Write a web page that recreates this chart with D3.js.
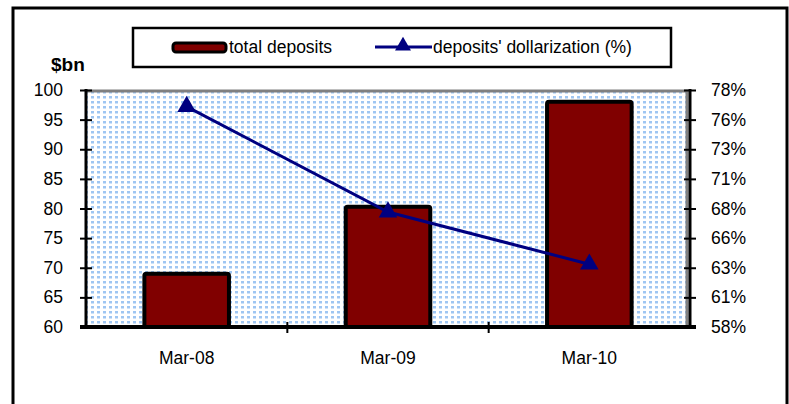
<!DOCTYPE html>
<html>
<head>
<meta charset="utf-8">
<script src="https://cdn.jsdelivr.net/npm/d3@7"></script>
<style>
  body { margin: 0; background: #fff; }
  text { font-family: "Liberation Sans", Arial, sans-serif; fill: #000; }
</style>
</head>
<body>
<div id="chart"></div>
<script>
// chart values
const categories = ['Mar-08', 'Mar-09', 'Mar-10'];
const deposits = [69, 80.3, 98];             // $bn, left axis
const dollarization = [76.6, 67.7, 63.3];    // %, right axis
const leftTicks = [60, 65, 70, 75, 80, 85, 90, 95, 100];
const rightTicks = [58, 60.5, 63, 65.5, 68, 70.5, 73, 75.5, 78];

const W = 789;
const H = 404;
const plot = { left: 86, right: 690, top: 90, bottom: 327 };
const fontSize = '17.5px';

const svg = d3.select('#chart').append('svg')
  .attr('width', W)
  .attr('height', H);

// dotted fill of the plot area
const defs = svg.append('defs');
const pat = defs.append('pattern')
  .attr('id', 'dots')
  .attr('width', 6)
  .attr('height', 5)
  .attr('patternUnits', 'userSpaceOnUse');
pat.append('rect').attr('width', 6).attr('height', 5).attr('fill', '#fff');
pat.append('rect').attr('x', 1).attr('y', 1).attr('width', 3).attr('height', 2.5).attr('fill', '#9fc6f2');

// outer frame (bottom edge runs off the picture)
svg.append('rect')
  .attr('x', 13).attr('y', 8)
  .attr('width', 774).attr('height', 420)
  .attr('fill', 'none')
  .attr('stroke', '#000')
  .attr('stroke-width', 3);

const x = d3.scaleBand().domain(categories).range([plot.left, plot.right]).padding(0);
const xBar = d3.scaleBand().domain(categories).range([plot.left, plot.right])
  .paddingInner(0.58).paddingOuter(0.29);
const y = d3.scaleLinear().domain([60, 100]).range([plot.bottom, plot.top]);
const y2 = d3.scaleLinear().domain([58, 78]).range([plot.bottom, plot.top]);

// plot background
svg.append('rect')
  .attr('x', plot.left).attr('y', plot.top)
  .attr('width', plot.right - plot.left).attr('height', plot.bottom - plot.top)
  .attr('fill', 'url(#dots)');
svg.append('path')
  .attr('d', `M${plot.left},${plot.top + 1}H${plot.right - 3}V${plot.bottom}`)
  .attr('fill', 'none')
  .attr('stroke', '#808080')
  .attr('stroke-width', 3);

// bars
svg.selectAll('.bar')
  .data(categories)
  .enter().append('rect')
    .attr('class', 'bar')
    .attr('x', d => xBar(d))
    .attr('y', (d, i) => y(deposits[i]))
    .attr('width', xBar.bandwidth())
    .attr('height', (d, i) => plot.bottom - y(deposits[i]))
    .attr('rx', 2)
    .attr('fill', '#800000')
    .attr('stroke', '#000')
    .attr('stroke-width', 4);

// left axis
const gl = svg.append('g')
  .attr('transform', `translate(${plot.left},0)`)
  .call(d3.axisLeft(y).tickValues(leftTicks).tickSize(6).tickPadding(17));
gl.select('.domain').remove();
gl.append('line')
  .attr('y1', plot.top - 1).attr('y2', plot.bottom + 1)
  .attr('stroke', '#000').attr('stroke-width', 3);
gl.selectAll('.tick line')
  .attr('x1', 6)
  .attr('stroke', '#000')
  .attr('stroke-width', 2);
gl.selectAll('.tick text').style('font-size', fontSize);
gl.attr('font-family', null);

// right axis
const gr = svg.append('g')
  .attr('transform', `translate(${plot.right},0)`)
  .call(d3.axisRight(y2).tickValues(rightTicks).tickSize(6).tickPadding(15)
    .tickFormat(d => `${Math.round(d)}%`));
gr.select('.domain').remove();
gr.append('line')
  .attr('y1', plot.top - 1).attr('y2', plot.bottom + 1)
  .attr('stroke', '#000').attr('stroke-width', 3);
gr.selectAll('.tick line')
  .attr('x1', -6)
  .attr('stroke', '#000')
  .attr('stroke-width', 2);
gr.selectAll('.tick text').style('font-size', fontSize);
gr.attr('font-family', null);

// bottom axis: ticks sit between categories
const gx = svg.append('g');
gx.append('line')
  .attr('x1', plot.left - 6).attr('x2', plot.right + 6)
  .attr('y1', plot.bottom).attr('y2', plot.bottom)
  .attr('stroke', '#000').attr('stroke-width', 4);
gx.selectAll('.xtick')
  .data(categories.slice(1))
  .enter().append('line')
    .attr('x1', d => x(d)).attr('x2', d => x(d))
    .attr('y1', plot.bottom - 5).attr('y2', plot.bottom + 6)
    .attr('stroke', '#000').attr('stroke-width', 2);
gx.selectAll('.xlabel')
  .data(categories)
  .enter().append('text')
    .attr('x', d => x(d) + x.bandwidth() / 2)
    .attr('y', 364)
    .attr('text-anchor', 'middle')
    .style('font-size', fontSize)
    .text(d => d);

// dollarization line
const line = d3.line()
  .x((d, i) => x(categories[i]) + x.bandwidth() / 2)
  .y(d => y2(d));
svg.append('path')
  .datum(dollarization)
  .attr('d', line)
  .attr('fill', 'none')
  .attr('stroke', '#000080')
  .attr('stroke-width', 3);
const tri = d3.symbol().type(d3.symbolTriangle).size(150);
svg.selectAll('.marker')
  .data(dollarization)
  .enter().append('path')
    .attr('d', tri)
    .attr('transform', (d, i) => `translate(${x(categories[i]) + x.bandwidth() / 2},${y2(d)})`)
    .attr('fill', '#000080');

// unit label
svg.append('text')
  .attr('x', 51).attr('y', 71)
  .style('font-size', '19px')
  .style('font-weight', 'bold')
  .text('$bn');

// legend
const lg = svg.append('g');
lg.append('rect')
  .attr('x', 133).attr('y', 28)
  .attr('width', 538).attr('height', 39)
  .attr('fill', '#fff')
  .attr('stroke', '#000')
  .attr('stroke-width', 2.5);
lg.append('rect')
  .attr('x', 173).attr('y', 43)
  .attr('width', 53).attr('height', 9)
  .attr('rx', 3)
  .attr('fill', '#800000')
  .attr('stroke', '#000')
  .attr('stroke-width', 3);
lg.append('text')
  .attr('x', 229).attr('y', 53)
  .style('font-size', fontSize)
  .text('total deposits');
lg.append('line')
  .attr('x1', 375).attr('x2', 432)
  .attr('y1', 47).attr('y2', 47)
  .attr('stroke', '#000080')
  .attr('stroke-width', 3);
lg.append('path')
  .attr('d', d3.symbol().type(d3.symbolTriangle).size(110))
  .attr('transform', 'translate(403,46)')
  .attr('fill', '#000080');
lg.append('text')
  .attr('x', 433).attr('y', 53)
  .style('font-size', fontSize)
  .text("deposits' dollarization (%)");
</script>
</body>
</html>
